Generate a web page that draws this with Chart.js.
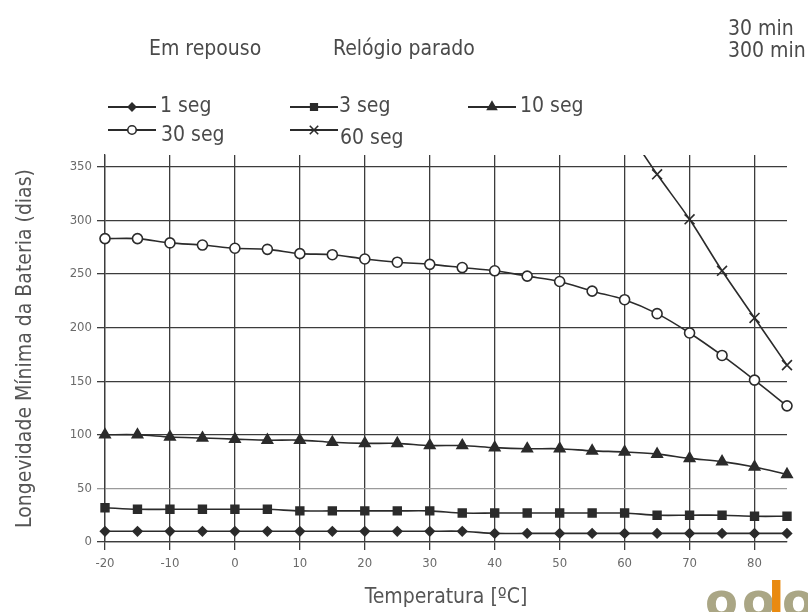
<!DOCTYPE html>
<html>
<head>
<meta charset="utf-8">
<script src="https://cdn.jsdelivr.net/npm/chart.js@4.4.1/dist/chart.umd.min.js"></script>
<style>
  html, body { margin: 0; padding: 0; background: #fff; }
  #wrap { position: relative; width: 808px; height: 612px; overflow: hidden;
          font-family: "Liberation Sans Narrow", "DejaVu Sans Condensed", "Roboto Condensed", sans-serif; color: #4a4a4a; }
  #batteryChart { position: absolute; left: 0; top: 0; }
  .hdr { position: absolute; font-size: 21px; line-height: 22px; white-space: nowrap; }
  .logo { position: absolute; top: 576px; font-family: "DejaVu Sans", sans-serif;
          font-weight: bold; font-size: 48px; line-height: 1; color: #aaa685; }
</style>
</head>
<body>
<div id="wrap">
  <canvas id="batteryChart" width="808" height="612"></canvas>
  <div class="hdr" style="left:149px; top:37px;">Em repouso</div>
  <div class="hdr" style="left:333px; top:37px;">Relógio parado</div>
  <div class="hdr" style="left:728px; top:17px;">30 min</div>
  <div class="hdr" style="left:728px; top:39px;">300 min</div>
  <div class="logo" style="left:705px;">o</div>
  <div class="logo" style="left:742px;">o</div>
  <div class="logo" style="left:768px; color:#e98a10;">l</div>
  <div class="logo" style="left:782px;">o</div>
</div>
<script>
// Temperature steps (ºC)
const temps = [-20, -15, -10, -5, 0, 5, 10, 15, 20, 25, 30, 35, 40, 45, 50, 55, 60, 65, 70, 75, 80, 85];

// Minimum battery life (days) per update interval
const seg1  = [10, 10, 10, 10, 10, 10, 10, 10, 10, 10, 10, 10, 8, 8, 8, 8, 8, 8, 8, 8, 8, 8];
const seg3  = [32, 30.5, 30.5, 30.5, 30.5, 30.5, 29, 29, 29, 29, 29, 27, 27, 27, 27, 27, 27, 25, 25, 25, 24, 24];
const seg10 = [100, 100, 98, 97, 96, 95, 95, 93, 92, 92, 90, 90, 88, 87, 87, 85, 84, 82, 78, 75, 70, 63];
const seg30 = [283, 283, 279, 277, 274, 273, 269, 268, 264, 261, 259, 256, 253, 248, 243, 234, 226, 213, 195, 174, 151, 127];
const seg60 = [null, null, null, null, null, null, null, null, null, null, null, null, null, null, null, null, 388, 343, 301, 253, 209, 165];

const seriesLabels = ["1 seg", "3 seg", "10 seg", "30 seg", "60 seg"];
const xTicks = [-20, -10, 0, 10, 20, 30, 40, 50, 60, 70, 80];
const yTicks = [0, 50, 100, 150, 200, 250, 300, 350];

const FONT = '"Liberation Sans Narrow", "DejaVu Sans Condensed", "Roboto Condensed", sans-serif';
const LINE = "#2b2b2b";
const GRID = "#3c3c3c";

// marker style per series
const markers = [
    { pointStyle: "rectRot",  radius: 4.5, fill: LINE },
    { pointStyle: "rect",     radius: 5.5, fill: LINE },
    { pointStyle: "triangle", radius: 6,   fill: LINE },
    { pointStyle: "circle",   radius: 5,   fill: "#ffffff" },
    { pointStyle: "crossRot", radius: 7,   fill: LINE }
];

// where each legend entry sits (line sample start, y of line, text x, text y)
const legendSpots = [
    { x: 108, y: 107, tx: 160, ty: 107 },
    { x: 290, y: 107, tx: 339, ty: 107 },
    { x: 468, y: 107, tx: 520, ty: 107 },
    { x: 108, y: 130, tx: 161, ty: 136 },
    { x: 290, y: 130, tx: 340, ty: 139 }
];

function toPoints(values) {
    return temps.map((t, i) => ({ x: t, y: values[i] }));
}

const allSeries = [seg1, seg3, seg10, seg30, seg60];

const datasets = allSeries.map((values, i) => ({
    label: seriesLabels[i],
    data: toPoints(values),
    borderColor: LINE,
    borderWidth: 1.6,
    tension: 0.3,
    fill: false,
    spanGaps: false,
    // markers at the plot edges stay whole; the 60 seg line is cut at the top
    clip: { left: 10, right: 10, bottom: 10, top: i === 4 ? 0 : 10 },
    pointStyle: markers[i].pointStyle,
    pointRadius: markers[i].radius,
    pointBackgroundColor: markers[i].fill,
    pointBorderColor: LINE,
    pointBorderWidth: 1.6
}));

// Legend drawn at fixed spots, two rows like the original sheet
const sheetLegend = {
    id: "sheetLegend",
    afterDraw(chart) {
        const ctx = chart.ctx;
        ctx.save();
        chart.data.datasets.forEach((ds, i) => {
            const s = legendSpots[i];
            ctx.strokeStyle = LINE;
            ctx.lineWidth = 1.8;
            ctx.beginPath();
            ctx.moveTo(s.x, s.y);
            ctx.lineTo(s.x + 48, s.y);
            ctx.stroke();
            ctx.fillStyle = ds.pointBackgroundColor;
            ctx.lineWidth = 1.6;
            Chart.helpers.drawPoint(ctx, {
                pointStyle: ds.pointStyle,
                radius: ds.pointRadius * 0.85,
                rotation: 0,
                borderWidth: 1.6
            }, s.x + 24, s.y);
            ctx.fillStyle = "#4a4a4a";
            ctx.font = "21px " + FONT;
            ctx.textBaseline = "middle";
            ctx.fillText(ds.label, s.tx, s.ty);
        });
        ctx.restore();
    }
};

const ctx = document.getElementById("batteryChart").getContext("2d");
const chart = new Chart(ctx, {
    type: "line",
    data: { datasets: datasets },
    options: {
        responsive: false,
        animation: false,
        devicePixelRatio: 1,
        layout: { padding: { top: 155, right: 21, left: 0, bottom: 0 } },
        plugins: {
            legend: { display: false },
            tooltip: { enabled: false }
        },
        scales: {
            x: {
                type: "linear",
                min: -20,
                max: 85,
                afterBuildTicks: scale => { scale.ticks = xTicks.map(v => ({ value: v })); },
                afterFit: scale => { scale.height = 70; },
                grid: { color: GRID, lineWidth: 1.3, tickLength: 8 },
                border: { color: GRID, width: 1.3 },
                ticks: { color: "#6a6a6a", font: { family: FONT, size: 13 }, padding: 6, maxRotation: 0 },
                title: {
                    display: true,
                    text: "Temperatura [ºC]",
                    color: "#555555",
                    font: { family: FONT, size: 21 },
                    padding: { top: 0, bottom: 2 }
                }
            },
            y: {
                min: 0,
                max: 361,
                afterBuildTicks: scale => { scale.ticks = yTicks.map(v => ({ value: v })); },
                afterFit: scale => { scale.width = 105; },
                grid: {
                    color: c => (c.tick && c.tick.value === 50 ? "#9a9a9a" : GRID),
                    lineWidth: 1.3,
                    tickLength: 8
                },
                border: { color: GRID, width: 1.3 },
                ticks: { color: "#6a6a6a", font: { family: FONT, size: 13 }, padding: 5 },
                title: {
                    display: true,
                    text: "Longevidade Mínima da Bateria (dias)",
                    color: "#555555",
                    font: { family: FONT, size: 21 },
                    padding: { top: 13, bottom: 0 }
                }
            }
        }
    },
    plugins: [sheetLegend]
});
</script>
</body>
</html>
